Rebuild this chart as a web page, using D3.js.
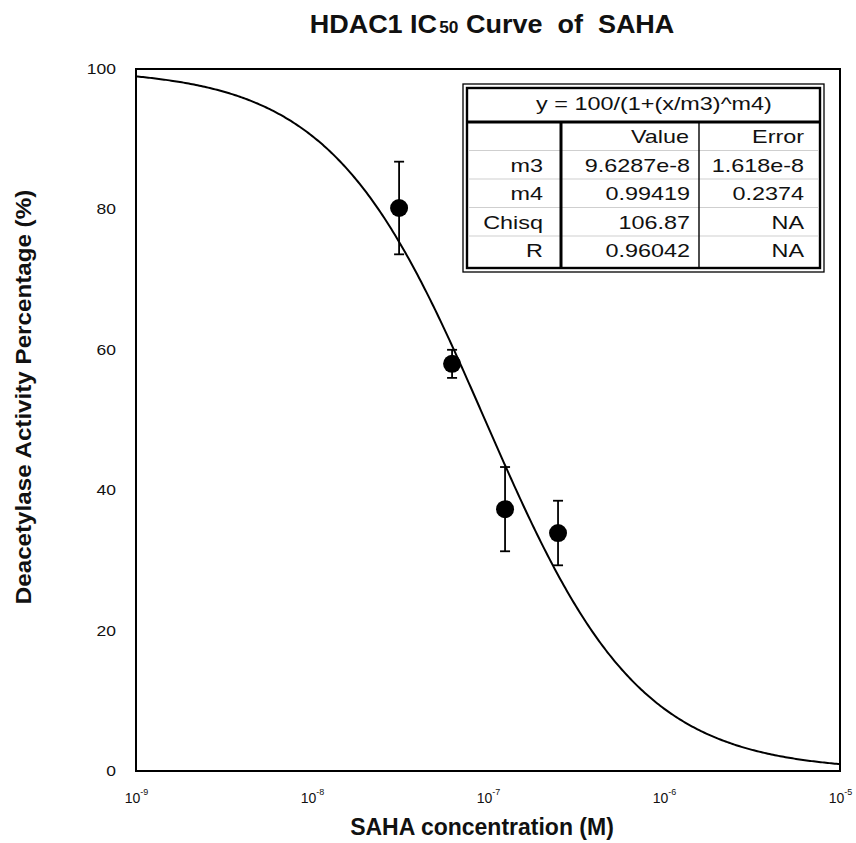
<!DOCTYPE html>
<html>
<head>
<meta charset="utf-8">
<script src="https://cdn.jsdelivr.net/npm/d3@7"></script>
<style>
  body { margin: 0; background: #fff; }
  svg { display: block; }
  text { font-family: "Liberation Sans", Arial, Helvetica, sans-serif; fill: #111; }
</style>
</head>
<body>
<svg id="chart" width="856" height="843"></svg>
<script>
// Measured HDAC1 deacetylase activity (%) at each SAHA concentration (M), mean ± error
const concentrations = [3.125e-8, 6.25e-8, 1.25e-7, 2.5e-7];
const activity = [80.2, 58.0, 37.3, 33.9];
const activityError = [6.6, 2.0, 6.0, 4.6];

// Fit of y = 100/(1+(x/m3)^m4)
const fitNames = ["m3", "m4", "Chisq", "R"];
const fitValues = [9.6287e-8, 0.99419, 106.87, 0.96042];
const fitValueLabels = ["9.6287e-8", "0.99419", "106.87", "0.96042"];
const fitErrorLabels = ["1.618e-8", "0.2374", "NA", "NA"];

// Axis ticks
const xTicks = [1e-9, 1e-8, 1e-7, 1e-6, 1e-5];
const xTickExponents = ["-9", "-8", "-7", "-6", "-5"];
const yTicks = [0, 20, 40, 60, 80, 100];

const svg = d3.select("#chart");
const plot = { left: 136, right: 840, top: 69, bottom: 771 };

const x = d3.scaleLog().domain([1e-9, 1e-5]).range([plot.left, plot.right]);
const y = d3.scaleLinear().domain([0, 100]).range([plot.bottom, plot.top]);

const m3 = fitValues[0], m4 = fitValues[1];
const model = c => 100 / (1 + Math.pow(c / m3, m4));

// Horizontally widened text, anchored at (tx, ty)
function placeText(sel, tx, ty, sx) {
  return sel.attr("transform", `translate(${tx},${ty}) scale(${sx},1)`);
}

// Title
const title = svg.append("text")
  .attr("text-anchor", "middle")
  .attr("font-weight", "bold")
  .attr("font-size", 25)
  .attr("xml:space", "preserve")
  .style("white-space", "pre");
placeText(title, 492, 33, 1.08);
title.append("tspan").text("HDAC1 IC");
title.append("tspan").attr("font-size", 16).attr("dx", 2).text("50");
title.append("tspan").text(" Curve  of  SAHA");

// Fitted curve
const curveX = d3.range(0, 401).map(i => Math.pow(10, -9 + 4 * i / 400));
svg.append("path")
  .datum(curveX)
  .attr("fill", "none")
  .attr("stroke", "#000")
  .attr("stroke-width", 2)
  .attr("d", d3.line().x(c => x(c)).y(c => y(model(c))));

// Y axis
const yAxis = svg.append("g")
  .attr("transform", `translate(${plot.left},0)`)
  .call(d3.axisLeft(y).tickValues(yTicks).tickSize(0).tickFormat(d3.format("d")));
yAxis.select(".domain").remove();
yAxis.selectAll("text")
  .attr("x", 0)
  .attr("font-size", 14)
  .attr("font-family", "Liberation Sans, Arial, sans-serif")
  .attr("fill", "#222")
  .attr("transform", "translate(-20,0) scale(1.25,1)");

// X axis
const xAxis = svg.append("g")
  .attr("transform", `translate(0,${plot.bottom})`)
  .call(d3.axisBottom(x).tickValues(xTicks).tickSize(0).tickFormat(() => ""));
xAxis.select(".domain").remove();
xAxis.selectAll(".tick text").remove();
xAxis.selectAll(".tick").each(function (d, i) {
  const t = d3.select(this).append("text")
    .attr("text-anchor", "middle")
    .attr("y", 32)
    .attr("font-size", 14)
    .attr("fill", "#222");
  t.append("tspan").text("10");
  t.append("tspan").attr("font-size", 9).attr("dy", -8).text(xTickExponents[i]);
});

// Frame
svg.append("rect")
  .attr("x", plot.left).attr("y", plot.top)
  .attr("width", plot.right - plot.left).attr("height", plot.bottom - plot.top)
  .attr("fill", "none").attr("stroke", "#000").attr("stroke-width", 2);

// Error bars
const capHalf = 5;
const bars = svg.append("g").attr("stroke", "#000").attr("stroke-width", 1.8);
concentrations.forEach((c, i) => {
  const cx = x(c);
  const hi = y(activity[i] + activityError[i]);
  const lo = y(activity[i] - activityError[i]);
  bars.append("line").attr("x1", cx).attr("x2", cx).attr("y1", hi).attr("y2", lo);
  bars.append("line").attr("x1", cx - capHalf).attr("x2", cx + capHalf).attr("y1", hi).attr("y2", hi);
  bars.append("line").attr("x1", cx - capHalf).attr("x2", cx + capHalf).attr("y1", lo).attr("y2", lo);
});

// Data points
svg.append("g").selectAll("circle")
  .data(concentrations)
  .join("circle")
  .attr("cx", d => x(d))
  .attr("cy", (d, i) => y(activity[i]))
  .attr("r", 9)
  .attr("fill", "#000");

// Axis titles
svg.append("text")
  .attr("text-anchor", "middle")
  .attr("font-weight", "bold")
  .attr("font-size", 23)
  .attr("x", 482).attr("y", 835)
  .text("SAHA concentration (M)");

svg.append("text")
  .attr("text-anchor", "middle")
  .attr("font-weight", "bold")
  .attr("font-size", 22)
  .attr("transform", "translate(31,397) rotate(-90) scale(1.1,1)")
  .text("Deacetylase Activity Percentage (%)");

// Fit results table
const tbl = { x0: 463, y0: 84, x1: 824, y1: 272, inset: 4 };
const inner = { x0: tbl.x0 + tbl.inset, y0: tbl.y0 + tbl.inset, x1: tbl.x1 - tbl.inset, y1: tbl.y1 - tbl.inset };
const headSep = 122, colSep1 = 561, colSep2 = 699;
const rowH = 28.5;
const table = svg.append("g");

table.append("rect")
  .attr("x", tbl.x0).attr("y", tbl.y0)
  .attr("width", tbl.x1 - tbl.x0).attr("height", tbl.y1 - tbl.y0)
  .attr("fill", "#fff").attr("stroke", "#000").attr("stroke-width", 1.3);
table.append("rect")
  .attr("x", inner.x0).attr("y", inner.y0)
  .attr("width", inner.x1 - inner.x0).attr("height", inner.y1 - inner.y0)
  .attr("fill", "none").attr("stroke", "#000").attr("stroke-width", 2.4);

// light row rules
d3.range(1, 5).forEach(k => {
  table.append("line")
    .attr("x1", inner.x0 + 1).attr("x2", inner.x1 - 1)
    .attr("y1", headSep + rowH * k).attr("y2", headSep + rowH * k)
    .attr("stroke", "#cfcfcf").attr("stroke-width", 1.2);
});
table.append("line")
  .attr("x1", inner.x0).attr("x2", inner.x1)
  .attr("y1", headSep).attr("y2", headSep)
  .attr("stroke", "#000").attr("stroke-width", 3);
table.append("line")
  .attr("x1", colSep1).attr("x2", colSep1)
  .attr("y1", headSep).attr("y2", inner.y1)
  .attr("stroke", "#000").attr("stroke-width", 3);
table.append("line")
  .attr("x1", colSep2).attr("x2", colSep2)
  .attr("y1", headSep).attr("y2", inner.y1)
  .attr("stroke", "#000").attr("stroke-width", 1.4);

const cellFont = 18, cellScale = 1.3;
function cell(txt, tx, ty, anchor) {
  const t = table.append("text")
    .attr("text-anchor", anchor)
    .attr("font-size", cellFont)
    .text(txt);
  placeText(t, tx, ty, cellScale);
}
cell("y = 100/(1+(x/m3)^m4)", 654, 110, "middle");
cell("Value", 689, 143, "end");
cell("Error", 804, 143, "end");
fitNames.forEach((n, i) => {
  const by = 143 + rowH * (i + 1);
  cell(n, 543, by, "end");
  cell(fitValueLabels[i], 690, by, "end");
  cell(fitErrorLabels[i], 804, by, "end");
});
</script>
</body>
</html>
